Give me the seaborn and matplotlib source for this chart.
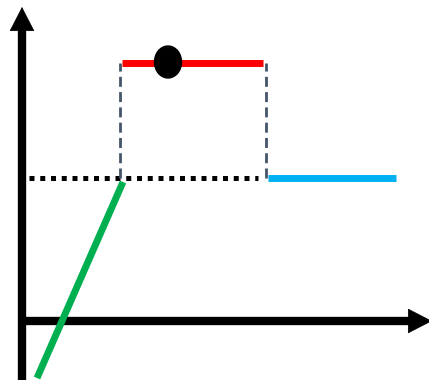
import matplotlib
matplotlib.use("Agg")
import matplotlib.pyplot as plt
from matplotlib.patches import Ellipse
import seaborn as sns
import pandas as pd

sns.set_style("white")

# Logical coordinates: origin at the axes crossing, 1 unit ~ 1 px
x_axis_end = 390
y_axis_end = 291
y_axis_start = -59
arrow_tip_x = 410
arrow_tip_y = 314

low_level = 143
high_level = 258

dotted_x = [7, 236]
red_x = [100, 241]
blue_x = [246, 374]
green_x = [101, 15]
green_y = [139, -57]
dash_x = [98, 244]
point_x = 146
point_y = 259

fig = plt.figure(figsize=(4.29, 3.80), dpi=100)
ax = fig.add_axes([0, 0, 1, 1])
ax.set_xlim(-22, 407)
ax.set_ylim(-59, 321)
ax.axis("off")

# axes lines
ax.plot([0, 0], [y_axis_start, y_axis_end], color="black", lw=6.0, solid_capstyle="butt")
ax.plot([0, x_axis_end], [0, 0], color="black", lw=6.0, solid_capstyle="butt")
ax.annotate("", xy=(0, arrow_tip_y), xytext=(0, y_axis_end - 2),
            arrowprops=dict(arrowstyle="-|>,head_length=1.65,head_width=0.85",
                            mutation_scale=10, lw=0.5, color="black",
                            shrinkA=0, shrinkB=0), annotation_clip=False)
ax.annotate("", xy=(arrow_tip_x, 0), xytext=(x_axis_end - 2, 0),
            arrowprops=dict(arrowstyle="-|>,head_length=1.65,head_width=0.85",
                            mutation_scale=10, lw=0.5, color="black",
                            shrinkA=0, shrinkB=0), annotation_clip=False)

# dotted level line
ax.plot(dotted_x, [low_level, low_level], color="black", lw=3.6,
        linestyle=(0, (1.0, 1.15)), dash_capstyle="butt")

# dashed verticals
for dx in dash_x:
    ax.plot([dx, dx], [low_level, high_level], color="#44546A", lw=2.0,
            linestyle=(0, (3.6, 1.9)), dash_capstyle="butt")

df_red = pd.DataFrame({"x": red_x, "y": [high_level, high_level]})
df_blue = pd.DataFrame({"x": blue_x, "y": [low_level, low_level]})
df_green = pd.DataFrame({"x": green_x, "y": green_y})

sns.lineplot(data=df_red, x="x", y="y", color="#FF0000", lw=5.0, ax=ax)
sns.lineplot(data=df_blue, x="x", y="y", color="#00B0F0", lw=5.0, ax=ax)
sns.lineplot(data=df_green, x="x", y="y", color="#00B050", lw=5.0, ax=ax, sort=False)
for l in ax.lines:
    l.set_solid_capstyle("butt")

ax.add_patch(Ellipse((point_x, point_y), 27, 32, color="black", zorder=5))

ax.set_xlim(-22, 407)
ax.set_ylim(-59, 321)
ax.axis("off")
fig.savefig("out.png", dpi=100)
